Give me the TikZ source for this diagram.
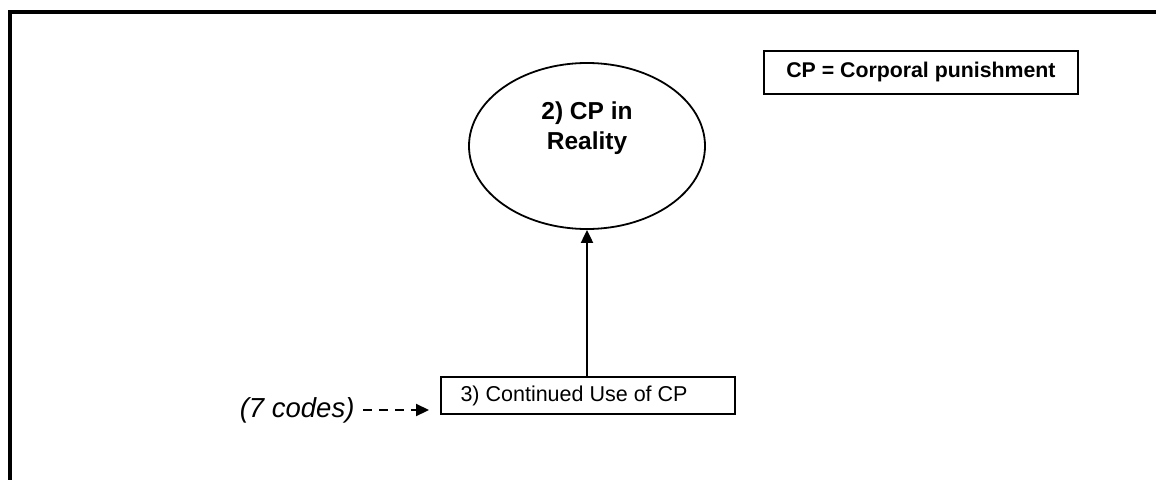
\documentclass[tikz,border=0pt]{standalone}
\usepackage{fontspec}
\setmainfont{Liberation Sans}
\usetikzlibrary{shapes.geometric,arrows.meta}
\begin{document}
\begin{tikzpicture}[x=1pt,y=-1pt,
  frameline/.style={line width=4pt},
  topic/.style={ellipse,draw,line width=1.8pt,minimum width=236pt,minimum height=166pt},
  topictext/.style={align=center,font=\bfseries\fontsize{24.5}{30}\selectfont},
  codebox/.style={rectangle,draw,line width=1.8pt,minimum width=294pt,minimum height=37pt,
    anchor=north west},
  plaintext/.style={font=\fontsize{21.5}{25}\selectfont},
  legendbox/.style={rectangle,draw,line width=1.8pt,minimum width=314pt,minimum height=43pt,
    anchor=north west,font=\bfseries\fontsize{21.3}{25}\selectfont},
  solidarrow/.style={line width=2pt,-{Triangle[length=13pt,width=12pt]}},
  dasharrow/.style={line width=2.2pt,dash pattern=on 9pt off 7pt,
    -{Triangle[length=13pt,width=12pt]},shorten >=11pt}]
\useasboundingbox (0,0) rectangle (1156,479);
\begin{scope}
  \clip (0,0) rectangle (1156,479);
  \draw[frameline] (10,12) rectangle (1300,700);
\end{scope}
% main theme
\node[topic] (reality) at (587,146) {};
\node[topictext] (realitytext) at (587,128) {2) CP in\\Reality};
% legend
\node[legendbox] (legend) at (763,50) {CP = Corporal punishment};
% code box
\node[codebox] (cont) at (440,376) {};
\node[plaintext,anchor=west] (conttext) at (457,396) {3) Continued Use of CP};
% code count
\node[anchor=east,font=\itshape\fontsize{27.5}{30}\selectfont] (codes) at (358,410) {(7 codes)};
\coordinate (dstart) at (363,410);
% connectors
\draw[solidarrow] (cont.north -| reality.south) -- (reality.south);
\draw[dasharrow] (dstart) -- (cont.west |- dstart);
\end{tikzpicture}
\end{document}
